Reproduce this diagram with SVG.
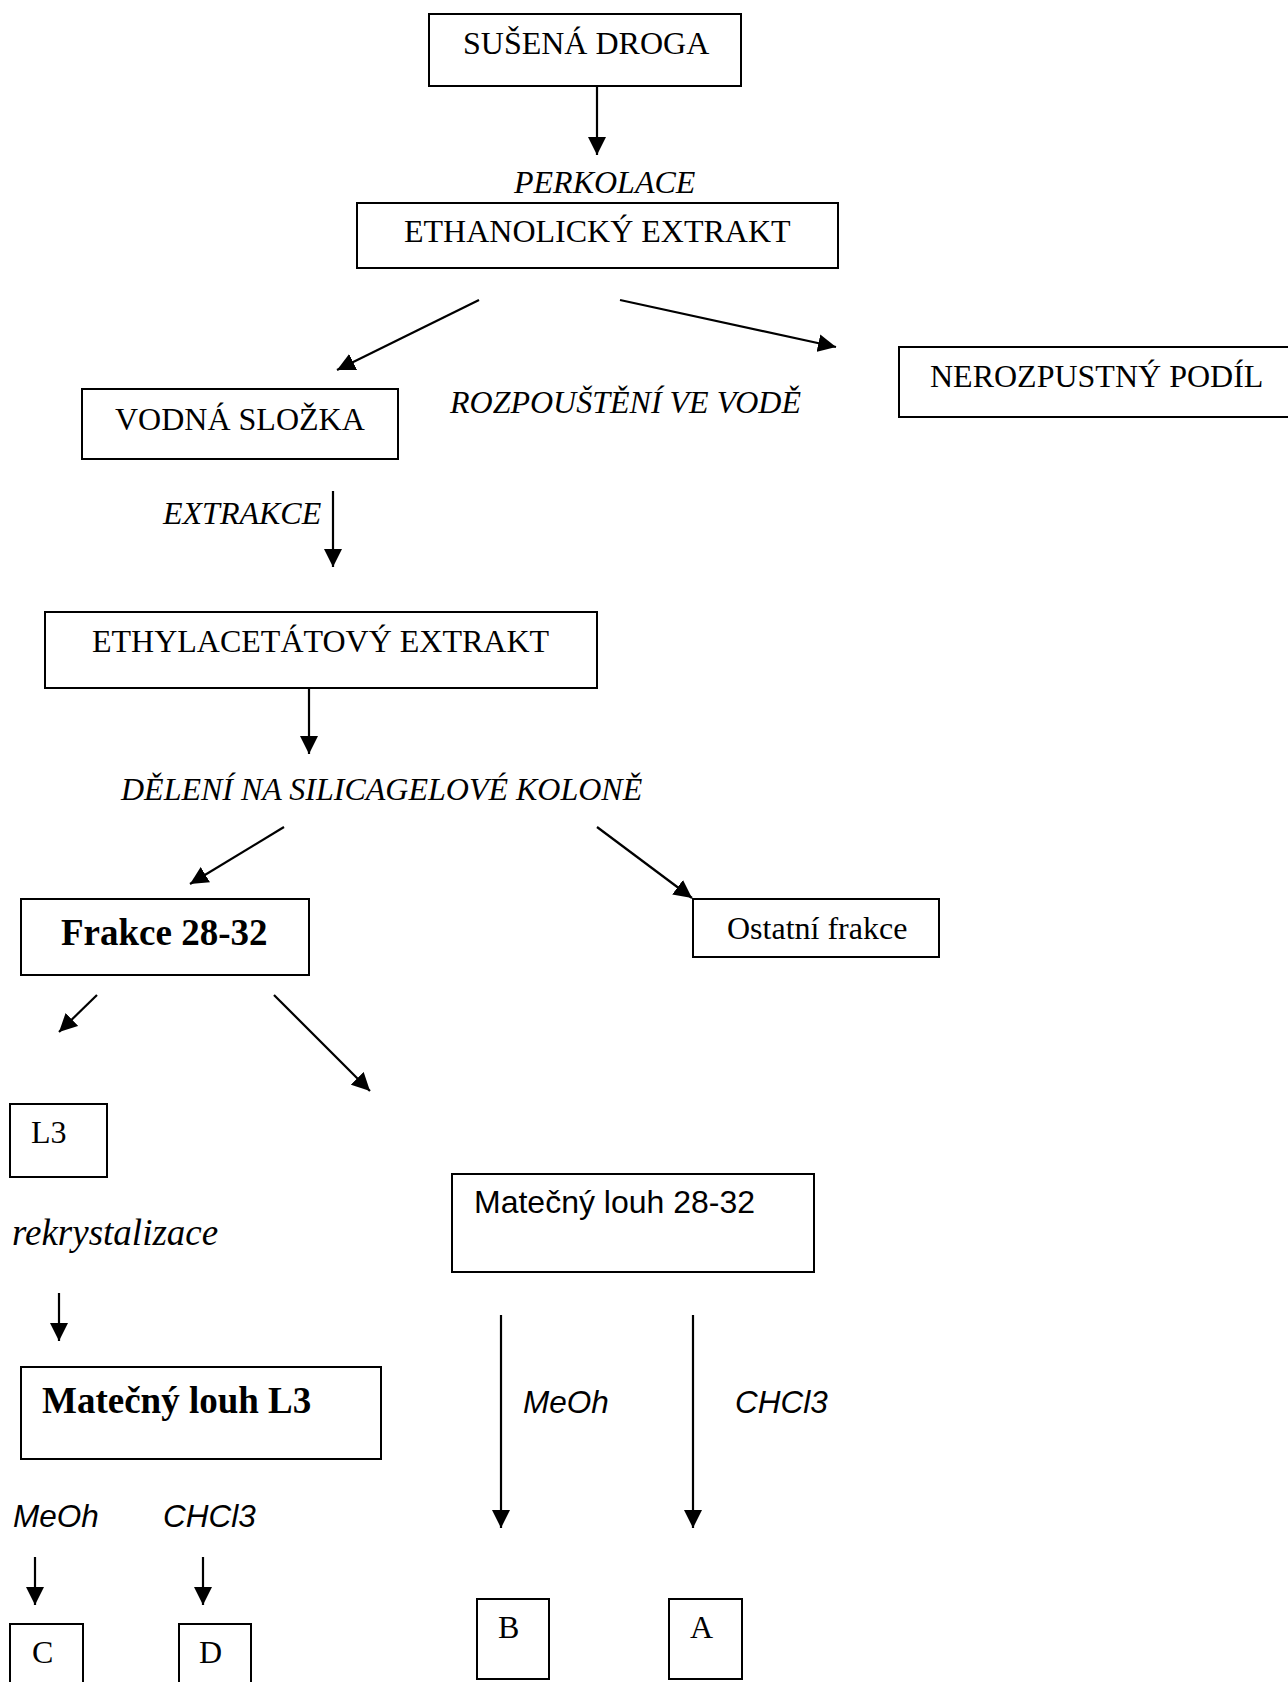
<svg xmlns="http://www.w3.org/2000/svg" width="1288" height="1682" viewBox="0 0 1288 1682">
<style>
  .box { fill: #fff; stroke: #000; stroke-width: 2; }
  .t { font-family: "Liberation Serif", "Times New Roman", serif; font-size: 32px; fill: #000; }
  .ti { font-family: "Liberation Serif", "Times New Roman", serif; font-size: 32px; font-style: italic; fill: #000; }
  .tb { font-family: "Liberation Serif", "Times New Roman", serif; font-size: 37px; font-weight: bold; fill: #000; }
  .s { font-family: "Liberation Sans", Arial, sans-serif; font-size: 32px; fill: #000; }
  .si { font-family: "Liberation Sans", Arial, sans-serif; font-size: 31.5px; font-style: italic; fill: #000; }
  .c { stroke: #000; stroke-width: 2.2; fill: none; marker-end: url(#ah); }
</style>
<defs>
  <marker id="ah" markerUnits="userSpaceOnUse" markerWidth="18" markerHeight="18" viewBox="0 0 16 16" refX="16" refY="8" orient="auto">
    <path d="M0,0 L16,8 L0,16 Z" fill="#000"/>
  </marker>
</defs>
<rect width="1288" height="1682" fill="#fff"/>

<g id="connectors">
  <line class="c" x1="597" y1="86" x2="597" y2="155"/>
  <line class="c" x1="479" y1="300" x2="337" y2="370"/>
  <line class="c" x1="620" y1="300" x2="836" y2="347"/>
  <line class="c" x1="333" y1="491" x2="333" y2="567"/>
  <line class="c" x1="309" y1="688" x2="309" y2="754"/>
  <line class="c" x1="284" y1="827" x2="190" y2="884"/>
  <line class="c" x1="597" y1="827" x2="692" y2="898"/>
  <line class="c" x1="97" y1="995" x2="59" y2="1032"/>
  <line class="c" x1="274" y1="995" x2="370" y2="1091"/>
  <line class="c" x1="59" y1="1293" x2="59" y2="1341"/>
  <line class="c" x1="501" y1="1315" x2="501" y2="1528"/>
  <line class="c" x1="693" y1="1315" x2="693" y2="1528"/>
  <line class="c" x1="35" y1="1557" x2="35" y2="1605"/>
  <line class="c" x1="203" y1="1557" x2="203" y2="1605"/>
</g>

<g id="labels">
  <text class="ti" x="514" y="193">PERKOLACE</text>
  <text class="ti" x="450" y="413">ROZPOUŠTĚNÍ VE VODĚ</text>
  <text class="ti" x="163" y="524">EXTRAKCE</text>
  <text class="ti" x="121" y="800">DĚLENÍ NA SILICAGELOVÉ KOLONĚ</text>
  <text class="ti" x="12" y="1245" style="font-size:37px">rekrystalizace</text>
  <text class="si" x="523" y="1413">MeOh</text>
  <text class="si" x="735" y="1413">CHCl3</text>
  <text class="si" x="13" y="1527">MeOh</text>
  <text class="si" x="163" y="1527">CHCl3</text>
</g>

<g id="susena-droga">
  <rect class="box" x="429" y="14" width="312" height="72"/>
  <text class="t" x="463" y="54">SUŠENÁ DROGA</text>
</g>
<g id="ethanolicky-extrakt">
  <rect class="box" x="357" y="203" width="481" height="65"/>
  <text class="t" x="404" y="242">ETHANOLICKÝ EXTRAKT</text>
</g>
<g id="nerozpustny-podil">
  <rect class="box" x="899" y="347" width="400" height="70"/>
  <text class="t" x="930" y="387">NEROZPUSTNÝ PODÍL</text>
</g>
<g id="vodna-slozka">
  <rect class="box" x="82" y="389" width="316" height="70"/>
  <text class="t" x="115" y="430">VODNÁ SLOŽKA</text>
</g>
<g id="ethylacetatovy-extrakt">
  <rect class="box" x="45" y="612" width="552" height="76"/>
  <text class="t" x="92" y="652">ETHYLACETÁTOVÝ EXTRAKT</text>
</g>
<g id="frakce-28-32">
  <rect class="box" x="21" y="899" width="288" height="76"/>
  <text class="tb" x="61" y="945">Frakce 28-32</text>
</g>
<g id="ostatni-frakce">
  <rect class="box" x="693" y="899" width="246" height="58"/>
  <text class="t" x="727" y="939">Ostatní frakce</text>
</g>
<g id="l3">
  <rect class="box" x="10" y="1104" width="97" height="73"/>
  <text class="t" x="31" y="1143">L3</text>
</g>
<g id="matecny-louh-28-32">
  <rect class="box" x="452" y="1174" width="362" height="98"/>
  <text class="s" x="474" y="1213">Matečný louh 28-32</text>
</g>
<g id="matecny-louh-l3">
  <rect class="box" x="21" y="1367" width="360" height="92"/>
  <text class="tb" x="42" y="1413">Matečný louh L3</text>
</g>
<g id="b">
  <rect class="box" x="477" y="1599" width="72" height="80"/>
  <text class="t" x="498" y="1638">B</text>
</g>
<g id="a">
  <rect class="box" x="669" y="1599" width="73" height="80"/>
  <text class="t" x="690" y="1638">A</text>
</g>
<g id="c">
  <rect class="box" x="10" y="1624" width="73" height="70"/>
  <text class="t" x="32" y="1663">C</text>
</g>
<g id="d">
  <rect class="box" x="179" y="1624" width="72" height="70"/>
  <text class="t" x="199" y="1663">D</text>
</g>
</svg>
